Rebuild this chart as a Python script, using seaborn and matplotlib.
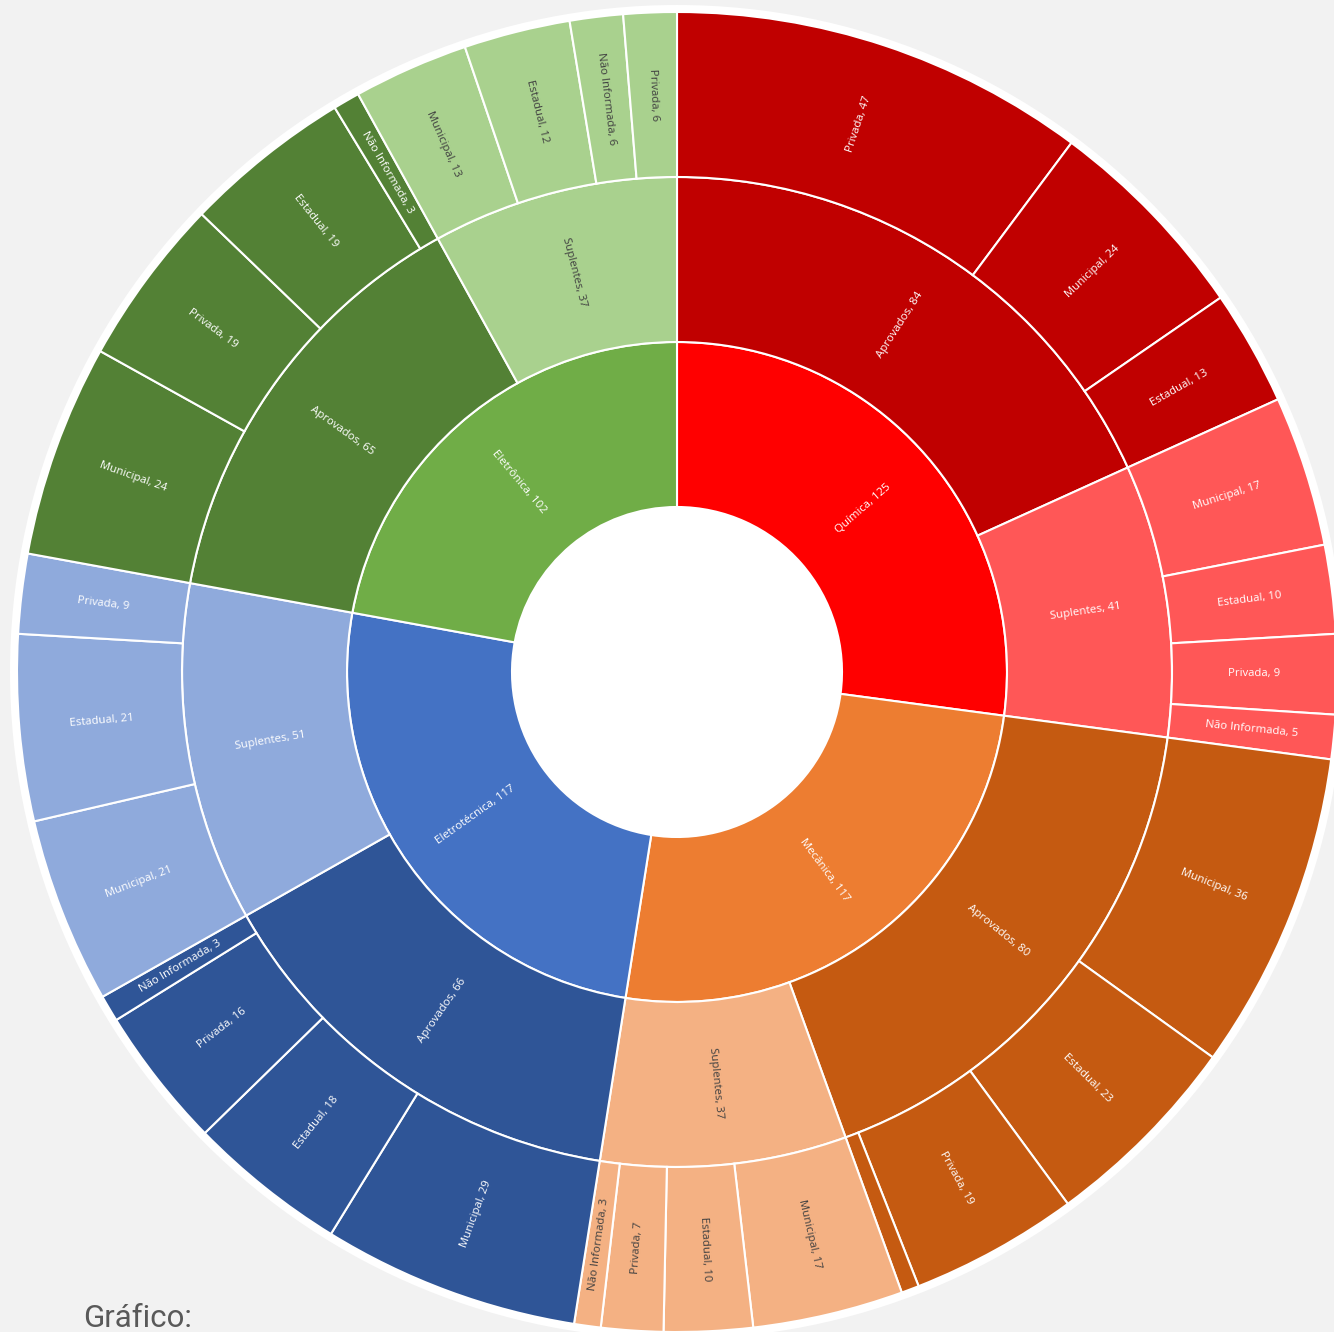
import numpy as np
import matplotlib
matplotlib.use("Agg")
import matplotlib.pyplot as plt
import seaborn as sns

sns.set_style("white")
plt.rcParams['font.family'] = ['Open Sans', 'DejaVu Sans']

# Nível 1: cursos
cursos = ["Química", "Mecânica", "Eletrotécnica", "Eletrônica"]
curso_valores = [125, 117, 117, 102]

# Nível 2: situação (na ordem horária)
grupo_curso = ["Química", "Química", "Mecânica", "Mecânica",
               "Eletrotécnica", "Eletrotécnica", "Eletrônica", "Eletrônica"]
grupo_nomes = ["Aprovados", "Suplentes", "Aprovados", "Suplentes",
               "Aprovados", "Suplentes", "Aprovados", "Suplentes"]
grupo_valores = [84, 41, 80, 37, 66, 51, 65, 37]

# Nível 3: rede de ensino (índice do grupo pai)
rede_grupo = [0, 0, 0,
              1, 1, 1, 1,
              2, 2, 2, 2,
              3, 3, 3, 3,
              4, 4, 4, 4,
              5, 5, 5,
              6, 6, 6, 6,
              7, 7, 7, 7]
rede_nomes = ["Privada", "Municipal", "Estadual",
              "Municipal", "Estadual", "Privada", "Não Informada",
              "Municipal", "Estadual", "Privada", "Não Informada",
              "Municipal", "Estadual", "Privada", "Não Informada",
              "Municipal", "Estadual", "Privada", "Não Informada",
              "Municipal", "Estadual", "Privada",
              "Municipal", "Privada", "Estadual", "Não Informada",
              "Municipal", "Estadual", "Não Informada", "Privada"]
rede_valores = [47, 24, 13,
                17, 10, 9, 5,
                36, 23, 19, 2,
                17, 10, 7, 3,
                29, 18, 16, 3,
                21, 21, 9,
                24, 19, 19, 3,
                13, 12, 6, 6]

# cores (base, aprovados, suplentes)
cores_curso = {"Química": "#FF0000", "Mecânica": "#ED7D31",
               "Eletrotécnica": "#4472C4", "Eletrônica": "#70AD47"}
cores_grupo = {("Química", "Aprovados"): "#C00000", ("Química", "Suplentes"): "#FF5757",
               ("Mecânica", "Aprovados"): "#C55A11", ("Mecânica", "Suplentes"): "#F4B183",
               ("Eletrotécnica", "Aprovados"): "#2F5597", ("Eletrotécnica", "Suplentes"): "#8FAADC",
               ("Eletrônica", "Aprovados"): "#538135", ("Eletrônica", "Suplentes"): "#A9D18E"}
claros = {"#F4B183", "#A9D18E"}

W, H = 1334, 1332
cx, cy = 677, H - 672
largura = 165
raios = [330, 495, 660]

fig = plt.figure(figsize=(W / 100, H / 100), dpi=100)
fig.patch.set_facecolor("#F2F2F2")
ax = fig.add_axes([0, 0, 1, 1])
ax.set_facecolor("#F2F2F2")

c1 = [cores_curso[c] for c in cursos]
c2 = [cores_grupo[(c, g)] for c, g in zip(grupo_curso, grupo_nomes)]
c3 = [c2[i] for i in rede_grupo]

# borda branca externa
ax.pie([1], radius=raios[2] + 7, center=(cx, cy), colors=["white"],
       wedgeprops=dict(linewidth=0))

niveis = [(curso_valores, c1, cursos), (grupo_valores, c2, grupo_nomes),
          (rede_valores, c3, rede_nomes)]
total = sum(curso_valores)

for (vals, cols, nomes), R in zip(niveis, raios):
    ax.pie(vals, radius=R, center=(cx, cy), startangle=90, counterclock=False,
           colors=cols, wedgeprops=dict(width=largura, edgecolor="white", linewidth=1.5))
    acum = np.cumsum([0] + list(vals))
    rm = R - largura / 2
    for i, (v, nome, cor) in enumerate(zip(vals, nomes, cols)):
        if v < 3:
            continue
        meio = (acum[i] + acum[i + 1]) / 2
        ang = 90 - meio * 360 / total
        x = cx + rm * np.cos(np.radians(ang))
        y = cy + rm * np.sin(np.radians(ang))
        rot = (ang + 180) % 360 - 180
        if rot > 90:
            rot -= 180
        elif rot < -90:
            rot += 180
        tc = "#404040" if cor in claros else "white"
        ax.text(x, y, f"{nome}, {v}", ha="center", va="center", rotation=rot,
                rotation_mode="anchor", fontsize=8.2, color=tc)

ax.text(83, H - 1327, "Gráfico:", ha="left", va="baseline", fontsize=22.5,
        color="#595959", family=["Roboto", "DejaVu Sans"])

ax.set_xlim(0, W)
ax.set_ylim(0, H)
ax.set_aspect("equal")
ax.axis("off")

plt.savefig("out.png", dpi=100, facecolor=fig.get_facecolor())
